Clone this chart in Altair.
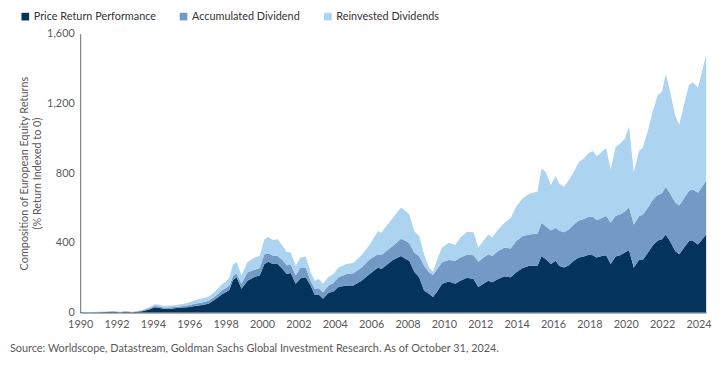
import altair as alt
import pandas as pd

years = [1990.0, 1990.5, 1991.0, 1991.5, 1991.8, 1992.2, 1992.5, 1992.8, 1993.0, 1993.4,
         1993.8, 1994.1, 1994.3, 1994.6, 1995.0, 1995.4, 1995.9, 1996.3, 1996.7, 1997.05,
         1997.35, 1997.6, 1997.8, 1998.0, 1998.2, 1998.4, 1998.6, 1998.87, 1999.2, 1999.6,
         1999.87, 2000.13, 2000.35, 2000.59, 2000.86, 2001.13, 2001.36, 2001.58, 2001.85, 2002.12,
         2002.4, 2002.67, 2002.9, 2003.12, 2003.35, 2003.66, 2003.93, 2004.2, 2004.66, 2005.02,
         2005.47, 2005.92, 2006.38, 2006.56, 2006.83, 2007.19, 2007.64, 2007.92, 2008.1, 2008.37,
         2008.64, 2008.91, 2009.18, 2009.4, 2009.63, 2009.9, 2010.27, 2010.63, 2010.9, 2011.27,
         2011.63, 2011.89, 2012.17, 2012.44, 2012.66, 2012.98, 2013.34, 2013.67, 2013.98, 2014.33,
         2014.7, 2015.15, 2015.37, 2015.6, 2015.88, 2016.15, 2016.33, 2016.6, 2016.87, 2017.14,
         2017.42, 2017.69, 2017.96, 2018.19, 2018.41, 2018.68, 2018.92, 2019.17, 2019.44, 2019.68,
         2019.95, 2020.18, 2020.44, 2020.73, 2020.94, 2021.22, 2021.49, 2021.76, 2021.99, 2022.2,
         2022.43, 2022.72, 2022.94, 2023.21, 2023.48, 2023.7, 2023.97, 2024.42]

price_return = [2, 1, 2, 3, 5, 2, 5, 2, 3, 8,
                18, 30, 28, 22, 22, 27, 30, 38, 44, 51,
                70, 89, 105, 117, 130, 187, 202, 136, 183, 206,
                212, 278, 291, 278, 278, 250, 221, 227, 165, 197,
                202, 155, 102, 104, 79, 113, 121, 146, 155, 155,
                183, 221, 259, 250, 272, 301, 325, 306, 297, 234,
                202, 127, 108, 89, 121, 165, 178, 165, 183, 199,
                193, 146, 165, 183, 174, 193, 208, 202, 231, 255,
                268, 268, 325, 306, 278, 297, 268, 259, 272, 297,
                316, 322, 331, 329, 316, 325, 329, 278, 322, 329,
                344, 359, 259, 302, 302, 344, 386, 414, 420, 448,
                410, 353, 335, 373, 410, 410, 391, 448]

accumulated_dividend = [1, 1, 1, 2, 2, 1, 2, 1, 2, 3,
                        6, 8, 8, 7, 8, 8, 10, 12, 14, 17,
                        18, 21, 23, 23, 25, 21, 23, 29, 48, 40,
                        43, 57, 49, 50, 47, 50, 51, 48, 47, 62,
                        56, 28, 34, 36, 38, 42, 49, 56, 66, 70,
                        76, 85, 76, 80, 81, 81, 99, 104, 100, 110,
                        123, 141, 123, 127, 129, 123, 123, 132, 133, 132,
                        136, 145, 151, 152, 151, 160, 165, 165, 179, 184,
                        180, 186, 190, 189, 193, 189, 203, 202, 205, 208,
                        212, 215, 218, 220, 213, 218, 227, 237, 234, 233,
                        236, 246, 246, 250, 260, 259, 261, 261, 265, 274,
                        275, 279, 279, 283, 290, 294, 297, 308]

reinvested_dividends = [1, 1, 1, 1, 2, 1, 2, 1, 1, 3,
                        6, 10, 10, 9, 10, 10, 15, 20, 22, 22,
                        27, 30, 34, 38, 43, 67, 65, 47, 59, 70,
                        70, 85, 93, 88, 95, 82, 76, 69, 56, 57,
                        64, 48, 47, 53, 48, 51, 51, 57, 57, 59,
                        70, 85, 132, 128, 142, 161, 179, 170, 165, 123,
                        114, 67, 28, 18, 56, 85, 100, 91, 114, 133,
                        132, 82, 94, 113, 105, 124, 142, 176, 199, 217,
                        233, 240, 312, 312, 261, 297, 270, 261, 283, 302,
                        336, 346, 366, 378, 368, 378, 388, 306, 393, 406,
                        417, 462, 302, 375, 387, 441, 510, 573, 582, 647,
                        586, 497, 464, 539, 609, 618, 602, 723]

series_names = ["Price Return Performance", "Accumulated Dividend", "Reinvested Dividends"]
series_colors = ["#04345c", "#7399c5", "#acd3ef"]
x_tick_values = list(range(1990, 2025, 2))
y_tick_values = [0, 400, 800, 1200, 1600]
source_text = "Source: Worldscope, Datastream, Goldman Sachs Global Investment Research. As of October 31, 2024."

rows = []
for i, yr in enumerate(years):
    for order, (name, vals) in enumerate(zip(series_names,
                                             [price_return, accumulated_dividend, reinvested_dividends])):
        rows.append({"year": yr, "series": name, "value": vals[i], "order": order})
df = pd.DataFrame(rows)

FONT = "Lato"
GRAY = "#595959"

area = alt.Chart(df).mark_area(interpolate="linear", strokeWidth=0).encode(
    x=alt.X("year:Q",
            scale=alt.Scale(domain=[1990, 2024.42], nice=False, zero=False),
            axis=alt.Axis(values=x_tick_values, format="d", title=None, ticks=False,
                          grid=False, labelPadding=6, labelFlush=False,
                          domainColor="#6b6b6b", labelColor=GRAY, labelFontSize=11)),
    y=alt.Y("value:Q", stack="zero",
            scale=alt.Scale(domain=[0, 1600], nice=False),
            axis=alt.Axis(values=y_tick_values, format=",.0f", ticks=False, grid=False,
                          labelPadding=6, domainColor="#6b6b6b", labelColor=GRAY,
                          labelFontSize=11,
                          title=["Composition of European Equity Returns",
                                 "(% Return Indexed to 0)"],
                          titleFontWeight="normal", titleFontSize=11, titleColor=GRAY,
                          titlePadding=4)),
    color=alt.Color("series:N",
                    scale=alt.Scale(domain=series_names, range=series_colors),
                    legend=alt.Legend(title=None, orient="none", direction="horizontal",
                                      legendX=-61, legendY=-23, symbolType="square",
                                      symbolSize=60, symbolStrokeWidth=0,
                                      labelFontSize=11, labelColor="#333333",
                                      columnPadding=22, labelOffset=3)),
    order=alt.Order("order:Q", sort="ascending"),
)

source = alt.Chart(pd.DataFrame({"t": [source_text]})).mark_text(
    align="left", baseline="middle", fontSize=11, color=GRAY, font=FONT
).encode(x=alt.value(-71), y=alt.value(319), text="t:N")

chart = alt.layer(area, source).properties(
    width=633, height=282,
    padding={"left": 73, "top": 24, "right": 13, "bottom": 45},
    autosize=alt.AutoSizeParams(type="none"),
).configure(font=FONT).configure_view(stroke=None)

chart.save("out.html", embed_options={"renderer": "svg", "actions": False})
